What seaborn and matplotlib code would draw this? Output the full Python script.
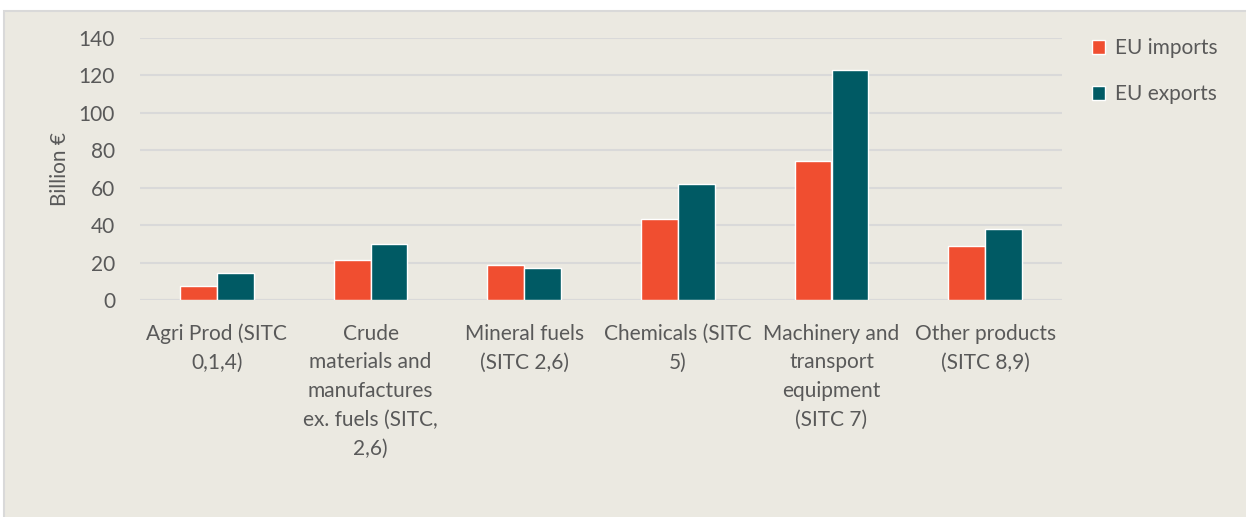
import matplotlib.pyplot as plt
import pandas as pd
import seaborn as sns
from matplotlib.patches import Rectangle


CATEGORIES = [
    "Agri Prod (SITC\n0,1,4)",
    "Crude\nmaterials and\nmanufactures\nex. fuels (SITC,\n2,6)",
    "Mineral fuels\n(SITC 2,6)",
    "Chemicals (SITC\n5)",
    "Machinery and\ntransport\nequipment\n(SITC 7)",
    "Other products\n(SITC 8,9)",
]
SERIES = ["EU imports", "EU exports"]
IMPORTS = [7.6, 21.4, 18.7, 43.3, 74.3, 28.9]
EXPORTS = [14.3, 29.9, 17.3, 62.0, 122.7, 38.0]
Y_TICKS = [0, 20, 40, 60, 80, 100, 120, 140]

BG = "#EBE9E1"
GRID = "#D9D9D9"
TEXT = "#595959"
PALETTE = {"EU imports": "#F04E30", "EU exports": "#005A64"}
FS = 15


def main() -> None:
    df = pd.DataFrame(
        {
            "category": CATEGORIES * 2,
            "series": [SERIES[0]] * len(CATEGORIES) + [SERIES[1]] * len(CATEGORIES),
            "value": IMPORTS + EXPORTS,
        }
    )

    sns.set_theme(style="white")
    plt.rcParams["font.family"] = ["Lato", "DejaVu Sans"]

    fig = plt.figure(figsize=(12.46, 5.17), dpi=100, facecolor="white")
    # beige panel behind the chart, top edge clipped like the source page
    fig.patches.append(
        Rectangle(
            (4 / 1246, -0.01), 1.02, 1 - 11 / 517 + 0.01,
            transform=fig.transFigure, facecolor=BG, edgecolor=GRID, linewidth=1.5, zorder=-1,
        )
    )

    ax = fig.add_axes([140 / 1246, 1 - 300 / 517, 922 / 1246, 262 / 517])
    ax.set_facecolor(BG)
    sns.barplot(
        data=df, x="category", y="value", hue="series", palette=PALETTE,
        width=0.48, ax=ax, saturation=1, legend=True,
    )

    ax.set_ylim(0, 140)
    ax.set_yticks(Y_TICKS)
    ax.set_xlim(-0.5, len(CATEGORIES) - 0.5)
    ax.yaxis.grid(True, color=GRID, linewidth=1.5)
    ax.set_axisbelow(True)
    for spine in ax.spines.values():
        spine.set_visible(False)
    ax.axhline(0, color=GRID, linewidth=1.5, zorder=0.5)

    ax.tick_params(axis="both", length=0, colors=TEXT, labelsize=FS)
    ax.tick_params(axis="y", pad=18)
    ax.tick_params(axis="x", pad=17)
    for label in ax.get_xticklabels():
        label.set_linespacing(1.55)

    ax.set_xlabel("")
    ax.set_ylabel("Billion €", color=TEXT, fontsize=FS, labelpad=6)

    ax.legend(
        loc="upper left", bbox_to_anchor=(1.012, 1.07), frameon=False,
        fontsize=FS, handlelength=0.65, handleheight=0.65, handletextpad=0.45,
        labelspacing=1.25, labelcolor=TEXT,
    )

    fig.savefig("out.png", dpi=100, facecolor="white")
    plt.close(fig)


if __name__ == "__main__":
    main()
